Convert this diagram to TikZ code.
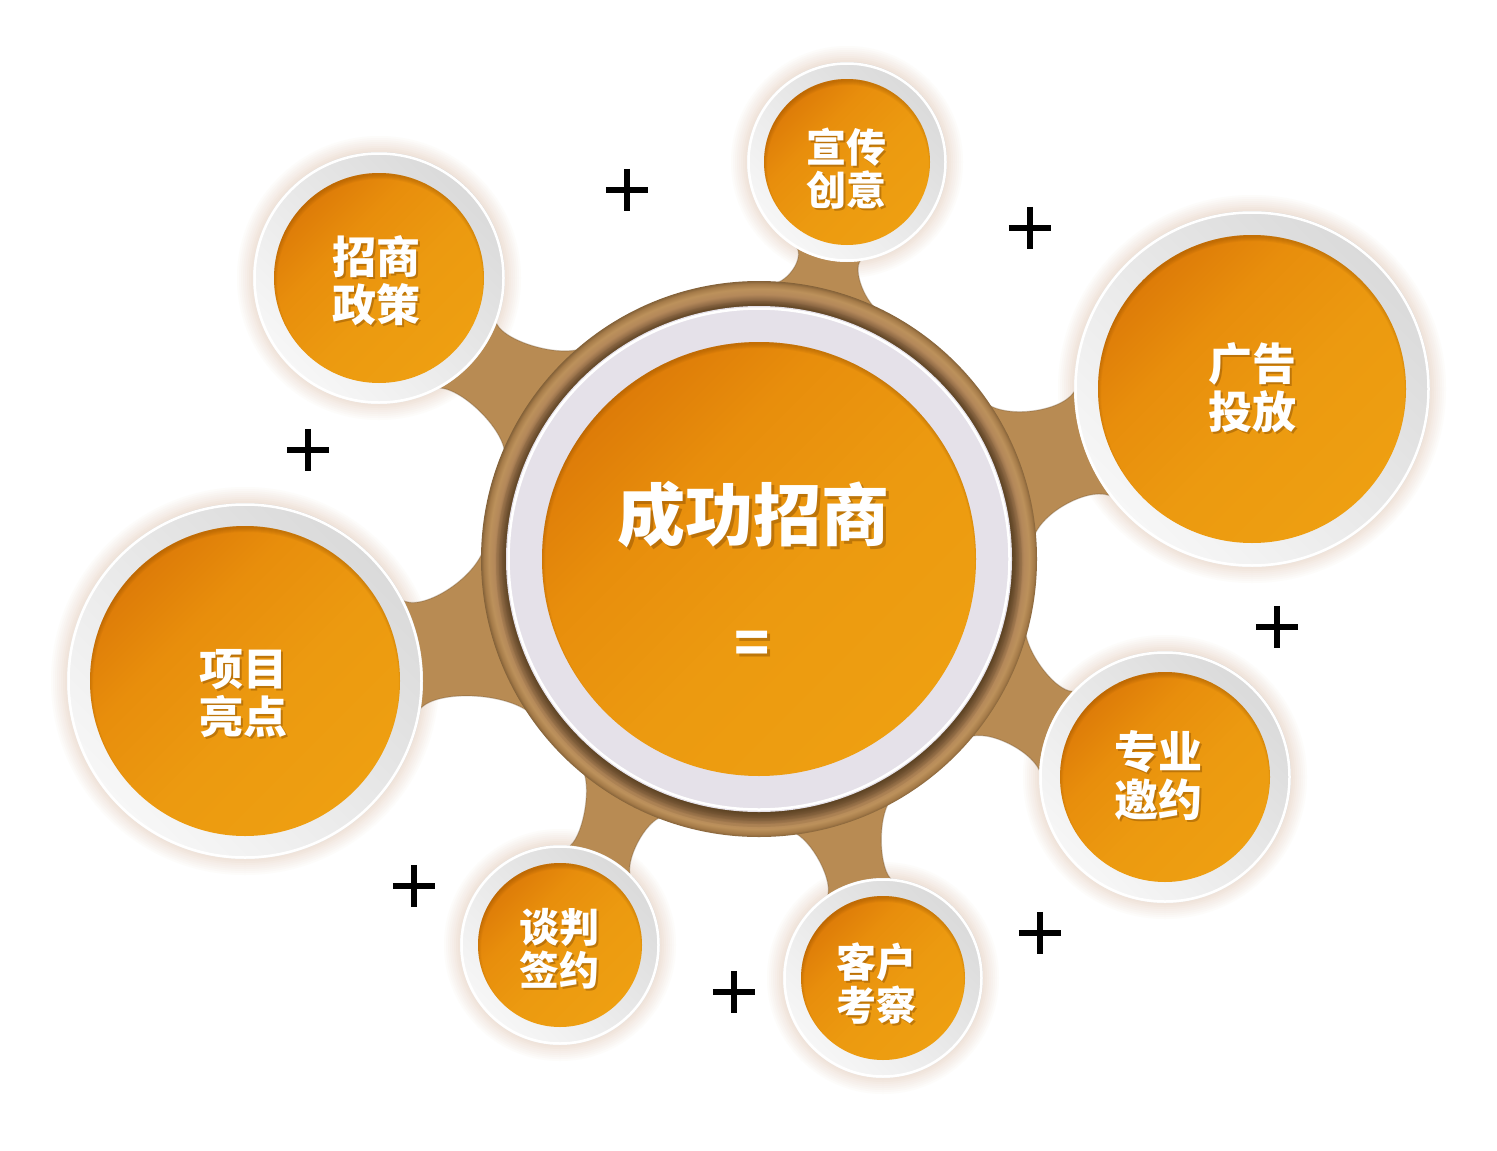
\documentclass[tikz,border=0pt]{standalone}
\usepackage{fontspec}
\setmainfont{Noto Sans CJK SC}
\usetikzlibrary{calc}

\definecolor{brownc}{HTML}{B88B53}
\definecolor{neckdk}{HTML}{6E5230}
\definecolor{orangeA}{HTML}{DD7B08}
\definecolor{orangeB}{HTML}{E88E0C}
\definecolor{orangeB2}{HTML}{EC9A10}
\definecolor{orangeC}{HTML}{EE9F11}
\definecolor{orangeSh}{HTML}{8A4A00}
\definecolor{ringA}{HTML}{DADADA}
\definecolor{ringB}{HTML}{F7F7F7}
\definecolor{hubwhite}{HTML}{E5E1E9}
\definecolor{glowc}{HTML}{ECDDD2}
\definecolor{tshadow}{HTML}{7A4300}
\definecolor{hA}{HTML}{5E4424}
\definecolor{hB}{HTML}{856240}
\definecolor{hC}{HTML}{B4885A}
\definecolor{hD}{HTML}{BC915B}
\definecolor{hE}{HTML}{A47A48}
\definecolor{hF}{HTML}{846239}

\pgfdeclareradialshading{hubringshade}{\pgfpointorigin}{%
 color(0bp)=(hA); color(22.75bp)=(hA); color(23.2bp)=(hB); color(23.8bp)=(hC);
 color(24.3bp)=(hD); color(24.75bp)=(hE); color(25bp)=(hF); color(50bp)=(hF)}

\pgfdeclareverticalshading{orangeshade}{100bp}{%
 color(0bp)=(orangeC); color(25bp)=(orangeC); color(45bp)=(orangeB2);
 color(62bp)=(orangeB); color(75bp)=(orangeA); color(100bp)=(orangeA)}

% soft halo around a satellite
\newcommand\satglow[2]{%
  \foreach \i in {0,...,9}{%
    \pgfmathtruncatemacro\pc{\i*10}%
    \pgfmathsetmacro\rr{#2+18-2*\i}%
    \fill[glowc!\pc!white] (#1.center) circle[radius=\rr pt];
  }}

% orange disc with inner top shadow
\newcommand\orangedisc[2]{%
  \shade[shading=orangeshade, shading angle=45] (#1) circle[radius=#2 pt];
  \begin{scope}
    \clip (#1) circle[radius=#2 pt];
    \foreach \w in {2,4,6,8,10}{%
      \draw[draw=orangeSh, line width=\w pt, opacity=0.08] ($(#1)+(1,4)$) circle[radius=#2 pt + 3pt];
    }
  \end{scope}}

% white ring + orange disc of a satellite
\newcommand\satdisc[3]{%
  \shade[top color=ringA, bottom color=ringB, shading angle=-45] (#1.center) circle[radius=#2 pt];
  \draw[white, line width=2.5pt] (#1.center) circle[radius=#2 pt - 1.5pt];
  \orangedisc{#1.center}{#3}}

% brown neck between hub and satellite
\newcommand\neck[6]{%
  \coordinate (na1) at ($(hub.center)+(#3:275)$);
  \coordinate (nb1) at ($(#1.center)+(#4:#2)$);
  \coordinate (na2) at ($(hub.center)+(#5:275)$);
  \coordinate (nb2) at ($(#1.center)+(#6:#2)$);
  \coordinate (nm1) at ($(na1)!0.5!(nb1)$);
  \coordinate (nm2) at ($(na2)!0.5!(nb2)$);
  \coordinate (nm) at ($(nm1)!0.5!(nm2)$);
  \fill[neckfill] (na1) .. controls ($(na1)!0.33!(nm)$) and ($(nb1)!0.33!(nm)$) .. (nb1)
     -- (#1.center) -- (nb2) .. controls ($(nb2)!0.33!(nm)$) and ($(na2)!0.33!(nm)$) .. (na2)
     -- (hub.center) -- cycle;
  \draw[neckedge] (na1) .. controls ($(na1)!0.33!(nm)$) and ($(nb1)!0.33!(nm)$) .. (nb1);
  \draw[neckedge] (nb2) .. controls ($(nb2)!0.33!(nm)$) and ($(na2)!0.33!(nm)$) .. (na2);}

\newcommand\putlabel[6]{%
  \node[#4, text=tshadow, text opacity=0.4] (#1s) at (#2+#6,#3+#6) {#5};
  \node[#4] (#1) at (#2,#3) {#5};}

\begin{document}
\begin{tikzpicture}[x=1pt,y=-1pt,
  anchornode/.style={circle, inner sep=0pt, minimum size=2pt},
  neckfill/.style={fill=brownc},
  neckedge/.style={draw=neckdk, line width=1.2pt, opacity=0.3},
  lbl/.style={text=white, align=center, inner sep=0pt, font=\bfseries\fontsize{44}{48}\selectfont},
  lblsmall/.style={lbl, font=\bfseries\fontsize{40}{43}\selectfont},
  lblbig/.style={lbl, font=\bfseries\fontsize{68}{70}\selectfont},
  lbleq/.style={lbl, font=\bfseries\fontsize{58}{60}\selectfont},
  plusnode/.style={inner sep=0pt, minimum size=42pt},
  plusline/.style={draw=black, line width=6pt},
]
\useasboundingbox[fill=white] (0,0) rectangle (1497,1151);

% anchor nodes
\node[anchornode] (hub) at (759,559) {};
\node[anchornode] (s1) at (379,278) {};
\node[anchornode] (s2) at (847,162) {};
\node[anchornode] (s3) at (1252,389) {};
\node[anchornode] (s4) at (245,681) {};
\node[anchornode] (s5) at (1165,777) {};
\node[anchornode] (s6) at (883,978) {};
\node[anchornode] (s7) at (560,945) {};

% halos
\satglow{s1}{126}
\satglow{s2}{100}
\satglow{s3}{178}
\satglow{s4}{178}
\satglow{s5}{126}
\satglow{s6}{100}
\satglow{s7}{100}

% necks
\neck{s1}{124}{230}{20}{202.4}{62.6}
\neck{s2}{98}{272.7}{122}{296}{80.7}
\neck{s3}{176}{325.3}{180.3}{355.9}{142}
\neck{s4}{176}{182.5}{332.3}{145.4}{9.9}
\neck{s5}{124}{14.6}{224}{40.5}{180.9}
\neck{s6}{98}{83}{235.1}{61.5}{275.7}
\neck{s7}{98}{129.8}{274.5}{110.5}{316.2}

% hub
\shade[shading=hubringshade] (hub.center) circle[radius=278pt];
\foreach \r in {254,257,260,263}{
  \fill[hA, opacity=0.12] ($(hub.center)+(0,5)$) circle[radius=\r pt];
}
\fill[hubwhite] (hub.center) circle[radius=253pt];
\draw[white, line width=2.5pt] (hub.center) circle[radius=250.5pt];
\orangedisc{hub.center}{217}

% satellites
\satdisc{s1}{126}{105}
\satdisc{s2}{100}{83}
\satdisc{s3}{178}{154}
\satdisc{s4}{178}{155}
\satdisc{s5}{126}{105}
\satdisc{s6}{100}{82}
\satdisc{s7}{100}{82}

% labels
\putlabel{tc}{753}{515}{lblbig}{成功招商}{3}
\putlabel{teq}{752}{648}{lbleq}{=}{3}
\putlabel{t1}{376}{281}{lbl}{招商\\政策}{2}
\putlabel{t2}{846}{169}{lblsmall}{宣传\\创意}{2}
\putlabel{t3}{1252}{388}{lbl}{广告\\投放}{2}
\putlabel{t4}{243}{694}{lbl}{项目\\亮点}{2}
\putlabel{t5}{1158}{776}{lbl}{专业\\邀约}{2}
\putlabel{t6}{876}{984}{lblsmall}{客户\\考察}{2}
\putlabel{t7}{559}{949}{lblsmall}{谈判\\签约}{2}

% plus signs
\foreach \n/\x/\y in {p1/627/190, p2/1030/228, p3/308/450, p4/1277/627, p5/414/886, p6/734/992, p7/1040/933}{
  \node[plusnode] (\n) at (\x,\y) {};
  \draw[plusline] (\n.west) -- (\n.east) (\n.north) -- (\n.south);
}
\end{tikzpicture}
\end{document}
